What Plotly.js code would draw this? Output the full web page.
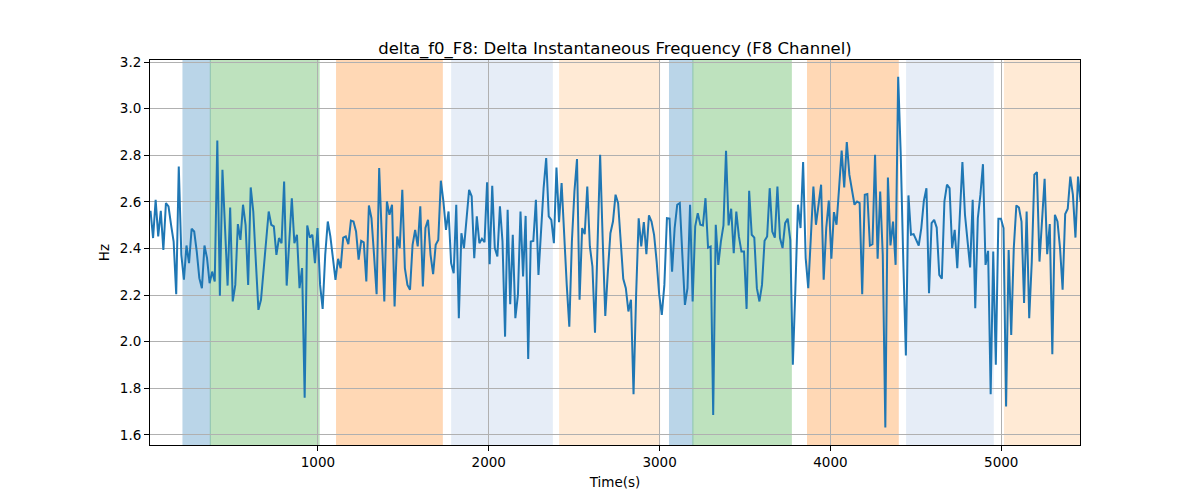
<!DOCTYPE html>
<html>
<head>
<meta charset="utf-8">
<script src="https://cdn.plot.ly/plotly-3.0.1.min.js"></script>
<style>
  html, body { margin: 0; padding: 0; background: #fff; }
  #chart { width: 1200px; height: 500px; }
</style>
</head>
<body>
<div id="chart"></div>
<script>
// sample timing (seconds) of the delta-frequency trace
var timeStart = 20;
var timeStep = 15.04;

// delta f0 for channel F8 (Hz), one value per sample
var deltaF0 = [
  2.562, 2.445, 2.609, 2.452, 2.562, 2.394, 2.595, 2.581, 2.502, 2.430,
  2.204, 2.752, 2.373, 2.266, 2.413, 2.337, 2.485, 2.473, 2.387, 2.273,
  2.230, 2.413, 2.359, 2.251, 2.301, 2.259, 2.863, 2.198, 2.738, 2.516,
  2.241, 2.576, 2.173, 2.244, 2.505, 2.437, 2.588, 2.502, 2.244, 2.662,
  2.559, 2.344, 2.137, 2.180, 2.301, 2.430, 2.559,
  2.502, 2.495, 2.373, 2.445, 2.423, 2.688, 2.241, 2.430, 2.616, 2.423,
  2.459, 2.230, 2.316, 1.760, 2.499, 2.447, 2.459, 2.337, 2.488, 2.244,
  2.141, 2.373, 2.516, 2.452, 2.359, 2.266, 2.356, 2.316, 2.447, 2.452,
  2.419, 2.520, 2.516, 2.473, 2.352, 2.433, 2.427, 2.259, 2.585, 2.530,
  2.373, 2.204, 2.745, 2.430, 2.173, 2.602,
  2.545, 2.588, 2.151, 2.452, 2.402, 2.652, 2.316, 2.244, 2.223, 2.416,
  2.480, 2.409, 2.581, 2.237, 2.488, 2.523, 2.373, 2.290, 2.416, 2.437,
  2.691, 2.602, 2.480, 2.559, 2.337, 2.294, 2.588, 2.101, 2.466, 2.402,
  2.530, 2.652, 2.624, 2.359, 2.538, 2.423, 2.442, 2.427, 2.684, 2.333,
  2.669, 2.402, 2.366, 2.581, 2.430, 2.022,
  2.566, 2.161, 2.459, 2.101, 2.201, 2.559, 2.280, 2.540, 1.926, 2.430,
  2.433, 2.609, 2.287, 2.473, 2.659, 2.788, 2.538, 2.523, 2.423, 2.748,
  2.513, 2.681, 2.430, 2.244, 2.065, 2.430, 2.645, 2.784, 2.180, 2.488,
  2.462, 2.666, 2.409, 2.323, 2.039, 2.430, 2.802, 2.437, 2.111, 2.301,
  2.466, 2.516, 2.631, 2.595, 2.430, 2.270,
  2.230, 2.130, 2.180, 1.775, 2.201, 2.530, 2.409, 2.513, 2.376, 2.542,
  2.516, 2.459, 2.344, 2.201, 2.115, 2.244, 2.530, 2.528, 2.301, 2.488,
  2.588, 2.595, 2.373, 2.158, 2.230, 2.588, 2.173, 2.495, 2.552, 2.502,
  2.499, 2.616, 2.404, 2.409, 1.686, 2.502, 2.330, 2.430, 2.499, 2.820,
  2.499, 2.571, 2.380, 2.559, 2.452, 2.387,
  2.387, 2.141, 2.648, 2.459, 2.447, 2.230, 2.173, 2.244, 2.433, 2.452,
  2.659, 2.473, 2.447, 2.666, 2.445, 2.402, 2.509, 2.528, 2.437, 1.901,
  2.230, 2.588, 2.488, 2.771, 2.359, 2.230, 2.445, 2.666, 2.502, 2.588,
  2.674, 2.266, 2.488, 2.606, 2.356, 2.556, 2.502, 2.659, 2.820, 2.662,
  2.857, 2.717, 2.659, 2.588, 2.602,
  2.595, 2.204, 2.631, 2.634, 2.413, 2.419, 2.802, 2.356, 2.645, 2.373,
  1.632, 2.705, 2.413, 2.516, 2.330, 3.137, 2.802, 2.344, 1.941, 2.628,
  2.459, 2.462, 2.437, 2.413, 2.488, 2.605, 2.659, 2.208, 2.509, 2.523,
  2.490, 2.287, 2.270, 2.602, 2.674, 2.659, 2.402, 2.480, 2.316, 2.545,
  2.771, 2.545, 2.430, 2.319, 2.609, 2.144,
  2.530, 2.630, 2.762, 2.330, 2.390, 1.775, 2.387, 1.901, 2.528, 2.528,
  2.488, 1.722, 2.394, 2.029, 2.402, 2.585, 2.576, 2.516, 2.166, 2.559,
  2.101, 2.344, 2.717, 2.728, 2.344, 2.545, 2.699, 2.376, 2.505, 1.946,
  2.545, 2.516, 2.402, 2.223, 2.548, 2.571, 2.709, 2.631, 2.447, 2.709,
  2.600
];

// shaded segments (start, end in seconds) and their colours
var segStart = [210, 370, 1109, 1783, 2415, 3058, 3195, 3866, 4446, 5019];
var segEnd   = [370, 1007, 1728, 2372, 3000, 3195, 3771, 4397, 4953, 5470];
var segColor = ['#1f77b4', '#2ca02c', '#ff7f0e', '#aec7e8', '#ffbb78',
                '#1f77b4', '#2ca02c', '#ff7f0e', '#aec7e8', '#ffbb78'];

var xTicks = [1000, 2000, 3000, 4000, 5000];

var shapes = [];
for (var k = 0; k < segStart.length; k++) {
  shapes.push({
    type: 'rect', xref: 'x', yref: 'paper',
    x0: segStart[k], x1: segEnd[k], y0: 0, y1: 1,
    fillcolor: segColor[k], opacity: 0.3,
    line: { color: segColor[k], width: 1 },
    layer: 'below'
  });
}

var trace = {
  y: deltaF0, x0: timeStart, dx: timeStep,
  type: 'scatter', mode: 'lines',
  line: { color: '#1f77b4', width: 2 },
  hoverinfo: 'x+y'
};

var font = { family: 'DejaVu Sans, sans-serif', size: 13.5, color: '#000' };

var layout = {
  width: 1200, height: 500,
  margin: { l: 150, r: 120, t: 60, b: 55, pad: 0 },
  paper_bgcolor: '#fff', plot_bgcolor: 'rgba(0,0,0,0)',
  showlegend: false,
  font: font,
  title: {
    text: 'delta_f0_F8: Delta Instantaneous Frequency (F8 Channel)',
    font: { family: 'DejaVu Sans, sans-serif', size: 16.5, color: '#000' },
    x: 0.5, xref: 'paper', xanchor: 'center',
    y: 1, yref: 'paper', yanchor: 'bottom', pad: { b: 6 }
  },
  xaxis: {
    range: [17, 5461],
    tickvals: xTicks,
    ticks: 'outside', ticklen: 5, tickwidth: 1, tickcolor: '#000',
    showline: true, linecolor: '#000', linewidth: 1, mirror: true,
    showgrid: true, gridcolor: '#b0b0b0', gridwidth: 1,
    zeroline: false,
    title: { text: 'Time(s)', font: font, standoff: 8 }
  },
  yaxis: {
    range: [1.557, 3.209],
    tick0: 1.6, dtick: 0.2, tickformat: '.1f',
    ticks: 'outside', ticklen: 5, tickwidth: 1, tickcolor: '#000',
    showline: true, linecolor: '#000', linewidth: 1, mirror: true,
    showgrid: true, gridcolor: '#b0b0b0', gridwidth: 1,
    zeroline: false,
    title: { text: 'Hz', font: font, standoff: 7 }
  },
  shapes: shapes
};

Plotly.newPlot('chart', [trace], layout, { displayModeBar: false, staticPlot: true });
</script>
</body>
</html>
